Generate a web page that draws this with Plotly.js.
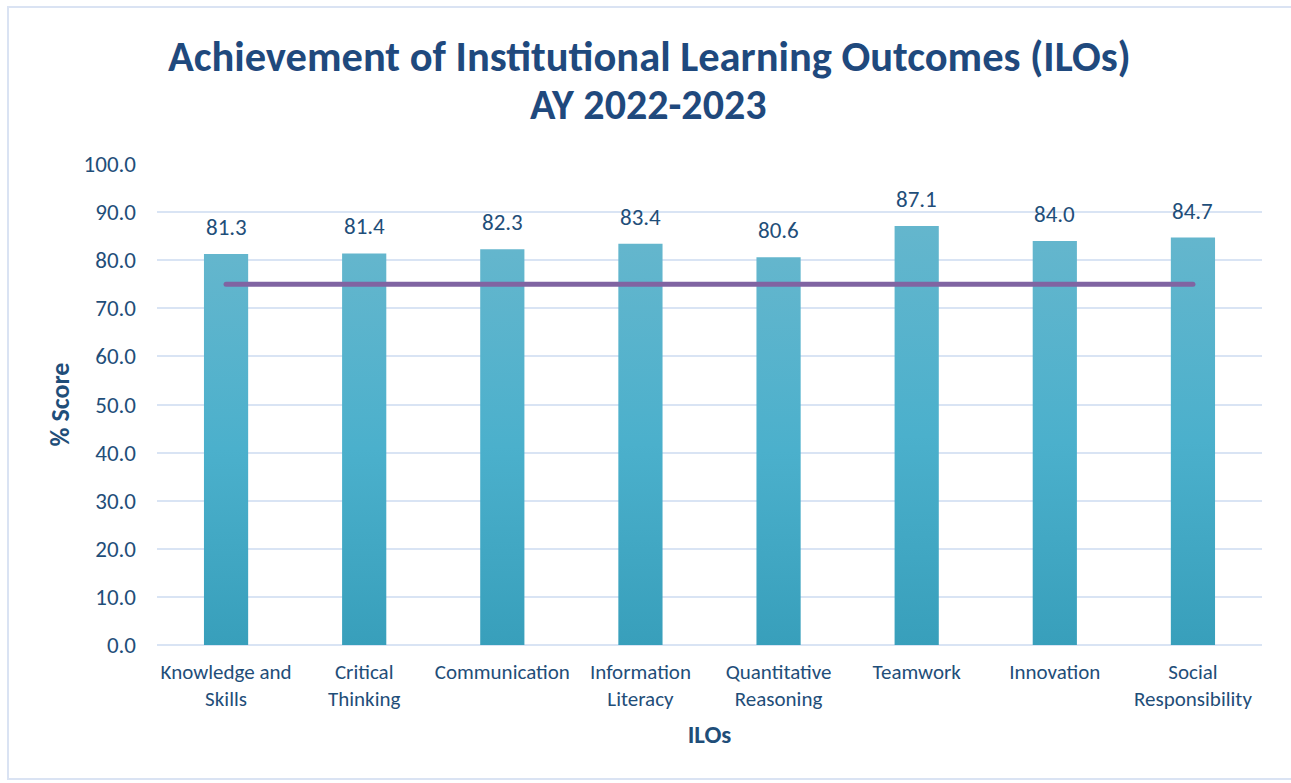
<!DOCTYPE html>
<html>
<head>
<meta charset="utf-8">
<script src="https://cdn.plot.ly/plotly-3.0.1.min.js"></script>
<style>
html,body{margin:0;padding:0;background:#fff;overflow:hidden;}
#wrap{position:relative;width:1291px;height:783px;overflow:hidden;}
#chart{position:absolute;left:0;top:0;width:1291px;height:783px;}
#frame{position:absolute;left:7px;top:6px;width:1310px;height:774px;border:2px solid #dae3f3;box-sizing:border-box;pointer-events:none;}
</style>
</head>
<body>
<div id="wrap"><div id="chart"></div><div id="frame"></div></div>
<script>
const categories = ["Knowledge and<br>Skills", "Critical<br>Thinking", "Communication", "Information<br>Literacy", "Quantitative<br>Reasoning", "Teamwork", "Innovation", "Social<br>Responsibility"];
const scores = [81.3, 81.4, 82.3, 83.4, 80.6, 87.1, 84.0, 84.7];
const target = [75, 75, 75, 75, 75, 75, 75, 75];
const yTicks = [0, 10, 20, 30, 40, 50, 60, 70, 80, 90, 100];
const titleLines = ["Achievement of Institutional Learning Outcomes (ILOs)", "AY 2022-2023"];

const FONT = "Carlito, Calibri, Lato, sans-serif";
const TXT = "#1f4e79";
const TITLE_COLOR = "#1f497d";

const traces = [
  {
    type: "bar",
    x: categories,
    y: scores,
    marker: {color: "#4bafc9"},
    hoverinfo: "x+y"
  },
  {
    type: "scatter",
    mode: "lines",
    x: categories,
    y: target,
    line: {color: "#8064a2", width: 5},
    hoverinfo: "y"
  }
];

const labels = categories.map((c, i) => ({
  x: c, y: scores[i], xref: "x", yref: "y",
  text: scores[i].toFixed(1),
  showarrow: false, yanchor: "bottom", yshift: 11,
  font: {family: FONT, size: 23, color: TXT}
}));

labels.push({
  x: 0.4452, y: 1.1247, xref: "paper", yref: "paper",
  xanchor: "center", yanchor: "middle",
  text: "<b>" + titleLines[1] + "</b>",
  showarrow: false,
  font: {family: FONT, size: 42, color: TITLE_COLOR}
});

const layout = {
  width: 1291,
  height: 783,
  margin: {l: 157, r: 29, t: 164, b: 138},
  paper_bgcolor: "#ffffff",
  plot_bgcolor: "#ffffff",
  showlegend: false,
  bargap: 0.68,
  font: {family: FONT, color: TXT},
  title: {
    text: "<b>" + titleLines[0] + "</b>",
    font: {family: FONT, size: 42.5, color: TITLE_COLOR},
    x: 0.503, xanchor: "center",
    y: 0.928, yanchor: "middle"
  },
  annotations: labels,
  xaxis: {
    type: "category",
    tickfont: {family: FONT, size: 21, color: TXT},
    ticklabelstandoff: 12,
    showgrid: false,
    showline: false,
    ticks: "",
    title: {text: "<b>ILOs</b>", font: {family: FONT, size: 25, color: TXT}, standoff: 14},
    automargin: false
  },
  yaxis: {
    range: [0, 100],
    tickvals: yTicks,
    ticktext: yTicks.map(v => v.toFixed(1)),
    tickfont: {family: FONT, size: 23, color: TXT},
    ticklabelstandoff: 20,
    gridcolor: "#d9e4f4",
    gridwidth: 2,
    zeroline: true,
    zerolinecolor: "#d9e4f4",
    zerolinewidth: 2,
    showline: false,
    ticks: "",
    ticklen: 0,
    title: {text: "<b>% Score</b>", font: {family: FONT, size: 26, color: TXT}, standoff: 6},
    automargin: false
  }
};

Plotly.newPlot("chart", traces, layout, {displayModeBar: false, staticPlot: true}).then(function(gd){
  const svg = gd.querySelector("svg.main-svg");
  const ns = "http://www.w3.org/2000/svg";
  let defs = svg.querySelector("defs");
  if (!defs) { defs = document.createElementNS(ns, "defs"); svg.insertBefore(defs, svg.firstChild); }
  const lg = document.createElementNS(ns, "linearGradient");
  lg.setAttribute("id", "barGrad");
  lg.setAttribute("x1", "0"); lg.setAttribute("y1", "0");
  lg.setAttribute("x2", "0"); lg.setAttribute("y2", "1");
  [["0", "#64b6cd"], ["0.5", "#4bb0cc"], ["1", "#389fbb"]].forEach(function(s){
    const st = document.createElementNS(ns, "stop");
    st.setAttribute("offset", s[0]); st.setAttribute("stop-color", s[1]);
    lg.appendChild(st);
  });
  defs.appendChild(lg);
  gd.querySelectorAll(".bars .point path").forEach(function(p){
    p.style.fill = "url(#barGrad)";
  });
  gd.querySelectorAll(".scatterlayer .js-line").forEach(function(p){
    p.style.strokeLinecap = "round";
  });
});
</script>
</body>
</html>
